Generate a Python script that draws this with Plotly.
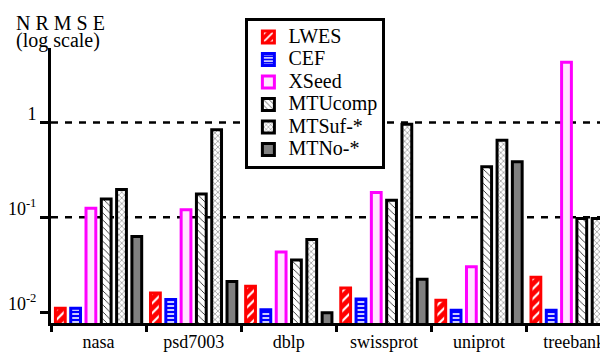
import plotly.graph_objects as go

datasets = ["nasa", "psd7003", "dblp", "swissprot", "uniprot", "treebank"]

lwes = [0.0110, 0.0160, 0.0188, 0.0180, 0.0134, 0.0234]
cef = [0.0110, 0.0136, 0.0106, 0.0138, 0.0105, 0.0105]
xseed = [0.125, 0.120, 0.0431, 0.183, 0.0302, 4.31]
mtucomp = [0.156, 0.176, 0.0356, 0.151, 0.342, 0.097]
mtsuf = [0.197, 0.837, 0.0586, 0.958, 0.649, 0.097]
mtno = [0.0630, 0.0211, 0.0099, 0.0223, 0.385, 0.097]

ytickvals = [0.01, 0.1, 1]
yticktext = ["10<sup>-2</sup>", "10<sup>-1</sup>", "1"]
gridvals = [0.1, 1]

FONT = "Liberation Serif"
LW = 3

series = [
    ("LWES", lwes, dict(color="#ff0000", line=dict(color="#ff0000", width=LW),
                        pattern=dict(shape="/", bgcolor="#ff0000", fgcolor="#ffffff",
                                     size=7, solidity=0.3, fillmode="replace"))),
    ("CEF", cef, dict(color="#0000ff", line=dict(color="#0000ff", width=LW),
                      pattern=dict(shape="-", bgcolor="#0000ff", fgcolor="#ffffff",
                                   size=4, solidity=0.4, fillmode="replace"))),
    ("XSeed", xseed, dict(color="#ffe6ff", line=dict(color="#ff00ff", width=LW))),
    ("MTUcomp", mtucomp, dict(color="#ffffff", line=dict(color="#000000", width=LW),
                              pattern=dict(shape="\\", bgcolor="#ffffff", fgcolor="#000000",
                                           size=5, solidity=0.15, fillmode="replace"))),
    ("MTSuf-*", mtsuf, dict(color="#ffffff", line=dict(color="#000000", width=LW),
                            pattern=dict(shape="x", bgcolor="#ffffff", fgcolor="#000000",
                                         size=4, solidity=0.15, fillmode="replace"))),
    ("MTNo-*", mtno, dict(color="#808080", line=dict(color="#000000", width=LW))),
]

fig = go.Figure()
for name, vals, marker in series:
    fig.add_trace(go.Bar(
        x=datasets, y=vals,
        name='<span style="font-size:20px">' + name + '</span>',
        marker=marker,
    ))

for g in gridvals:
    fig.add_shape(type="line", xref="paper", x0=0, x1=1, yref="y", y0=g, y1=g,
                  line=dict(color="black", width=2.5, dash="7px,7px"), layer="below")

fig.add_annotation(text="N R M S E", xref="paper", yref="paper",
                   x=-0.066, y=1.0925, xanchor="left", yanchor="middle", showarrow=False,
                   font=dict(family=FONT, size=20, color="black"))
fig.add_annotation(text="(log scale)", xref="paper", yref="paper",
                   x=-0.066, y=1.0285, xanchor="left", yanchor="middle", showarrow=False,
                   font=dict(family=FONT, size=20, color="black"))

# page body has an 8px margin: figure is 600x344 placed at (8, 8)
fig.update_layout(
    width=600, height=344,
    margin=dict(l=39, r=0, t=40, b=23),
    paper_bgcolor="white", plot_bgcolor="white",
    barmode="group", bargap=0.035, bargroupgap=0.36,
    font=dict(family=FONT, size=18, color="black"),
    showlegend=True,
    legend=dict(x=0.349, y=1.11, xanchor="left", yanchor="top",
                bgcolor="white", bordercolor="black", borderwidth=3,
                font=dict(family=FONT, size=15, color="black"),
                itemwidth=30, tracegroupgap=0),
    xaxis=dict(type="category", range=[-0.5, 5.356], showline=True, linecolor="black",
               linewidth=3, ticks="outside", tickson="boundaries", ticklen=6,
               tickwidth=3, tickcolor="black", showgrid=False, zeroline=False,
               tickfont=dict(family=FONT, size=18, color="black")),
    yaxis=dict(type="log", range=[-2.113, 0.784], showline=True, linecolor="black",
               linewidth=3, ticks="outside", ticklen=8, tickwidth=3, tickcolor="black",
               tickvals=ytickvals, ticktext=yticktext, showgrid=False, zeroline=False,
               ticklabelshift=-9,
               tickfont=dict(family=FONT, size=18, color="black")),
)

fig.write_html("out.html")
